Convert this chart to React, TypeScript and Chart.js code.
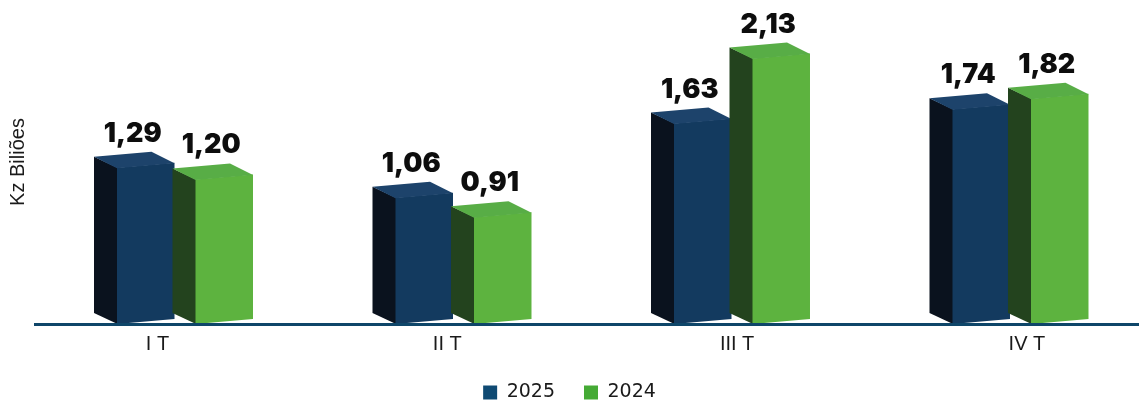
import React, { useEffect, useRef } from 'react';
import { Chart, registerables } from 'chart.js';

Chart.register(...registerables);

// ---- data ----
const quarterLabels = ['I T', 'II T', 'III T', 'IV T'];
const quarterIndex = [0, 1, 2, 3];
const seriesNames = ['2025', '2024'];
const values2025 = [1.29, 1.06, 1.63, 1.74];
const values2024 = [1.2, 0.91, 2.13, 1.82];
const yAxisTitle = 'Kz Biliões';

// ---- styles ----
const legendColors = ['#0f4a73', '#45aa35'];
const faceColors = [
  { front: '#133a5f', side: '#0a121e', top: '#1d436b' },
  { front: '#5db33f', side: '#23431e', top: '#58ad46' },
];
const DEPTH_X = -23;
const DEPTH_Y = -11;
const SLANT = 2.5;

const fmt = (v: number) => v.toFixed(2).replace('.', ',');

const bars3dPlugin = {
  id: 'bars3d',
  beforeDatasetDraw() {
    return false;
  },
  afterDatasetsDraw(chart: any) {
    const ctx = chart.ctx as CanvasRenderingContext2D;
    const area = chart.chartArea;
    ctx.save();
    ctx.beginPath();
    ctx.rect(0, 0, chart.width, area.bottom);
    ctx.clip();
    const labels: { x: number; y: number; t: string }[] = [];
    chart.data.datasets.forEach((ds: any, di: number) => {
      const meta = chart.getDatasetMeta(di);
      const pal = faceColors[di];
      meta.data.forEach((el: any, i: number) => {
        const { x, y, width } = el.getProps(['x', 'y', 'width'], true);
        const base = area.bottom;
        const x1 = x - width / 2;
        const x2 = x + width / 2;
        const ytl = y + SLANT;
        const ytr = y - SLANT;
        // side
        ctx.fillStyle = pal.side;
        ctx.beginPath();
        ctx.moveTo(x1 + 0.5, ytl);
        ctx.lineTo(x1 + DEPTH_X, ytl + DEPTH_Y);
        ctx.lineTo(x1 + DEPTH_X, base + DEPTH_Y);
        ctx.lineTo(x1 + 0.5, base);
        ctx.closePath();
        ctx.fill();
        // front
        ctx.fillStyle = pal.front;
        ctx.beginPath();
        ctx.moveTo(x1, ytl);
        ctx.lineTo(x2, ytr);
        ctx.lineTo(x2, base - 2 * SLANT);
        ctx.lineTo(x1, base);
        ctx.closePath();
        ctx.fill();
        // top
        ctx.fillStyle = pal.top;
        ctx.beginPath();
        ctx.moveTo(x1, ytl + 0.5);
        ctx.lineTo(x2, ytr + 0.5);
        ctx.lineTo(x2 + DEPTH_X, ytr + DEPTH_Y);
        ctx.lineTo(x1 + DEPTH_X, ytl + DEPTH_Y);
        ctx.closePath();
        ctx.fill();
        labels.push({ x: x + DEPTH_X / 2 - 1.5, y: ytr + DEPTH_Y - 10, t: fmt(ds.data[i].y) });
      });
    });
    ctx.restore();
    ctx.save();
    ctx.fillStyle = '#0d0d0d';
    ctx.font = '900 27px Inter';
    ctx.textAlign = 'center';
    ctx.textBaseline = 'alphabetic';
    labels.forEach((l) => ctx.fillText(l.t, l.x, l.y));
    ctx.restore();
  },
};

const fixTicks = (scale: any) => {
  scale.ticks = quarterIndex.map((v) => ({ value: v }));
};

export default function App() {
  const ref = useRef<HTMLCanvasElement>(null);
  useEffect(() => {
    if (!ref.current) return;
    const mk = (vals: number[]) => vals.map((v, i) => ({ x: quarterIndex[i], y: v }));
    const chart = new Chart(ref.current, {
      type: 'bar',
      data: {
        datasets: [
          {
            label: seriesNames[0],
            data: mk(values2025),
            backgroundColor: legendColors[0],
            borderWidth: 0,
            xAxisID: 'x',
            yAxisID: 'y',
          },
          {
            label: seriesNames[1],
            data: mk(values2024),
            backgroundColor: legendColors[1],
            borderWidth: 0,
            xAxisID: 'x',
            yAxisID: 'y',
          },
        ],
      } as any,
      options: {
        animation: false,
        responsive: true,
        maintainAspectRatio: false,
        categoryPercentage: 0.5637,
        barPercentage: 0.7325,
        layout: { padding: 0 },
        plugins: {
          tooltip: { enabled: false },
          legend: {
            position: 'bottom',
            labels: {
              boxWidth: 14,
              boxHeight: 14,
              padding: 29,
              color: '#1a1a1a',
              font: { family: 'DejaVu Sans', size: 19 },
            },
          },
        },
        scales: {
          x: {
            type: 'linear',
            display: false,
            offset: false,
            min: -0.5386,
            max: 3.4255,
            afterBuildTicks: fixTicks,
          },
          xl: {
            type: 'linear',
            position: 'bottom',
            offset: false,
            min: -0.4227,
            max: 3.3868,
            afterBuildTicks: fixTicks,
            afterFit: (s: any) => {
              s.height = 30;
            },
            grid: { display: false, drawTicks: false, tickLength: 0 },
            border: { display: true, color: '#0e4669', width: 3, z: 1 },
            ticks: {
              autoSkip: false,
              maxRotation: 0,
              padding: 8,
              color: '#1a1a1a',
              font: { family: 'Liberation Sans', size: 20 },
              callback: (v: any) => quarterLabels[quarterIndex.indexOf(Number(v))] ?? '',
            },
          },
          y: {
            type: 'linear',
            min: 0.069,
            max: 2.561,
            grid: { display: false },
            border: { display: false },
            ticks: { display: false },
            afterFit: (s: any) => {
              s.width = 35;
            },
            title: {
              display: true,
              text: yAxisTitle,
              color: '#1a1a1a',
              padding: { top: 6, bottom: 0 },
              font: { family: 'Liberation Sans', size: 20 },
            },
          },
        },
      } as any,
      plugins: [bars3dPlugin],
    });
    return () => chart.destroy();
  }, []);
  return (
    <div style={{ position: 'fixed', left: 0, top: 0, width: 1139, height: 412, background: '#ffffff' }}>
      <canvas ref={ref} />
    </div>
  );
}
